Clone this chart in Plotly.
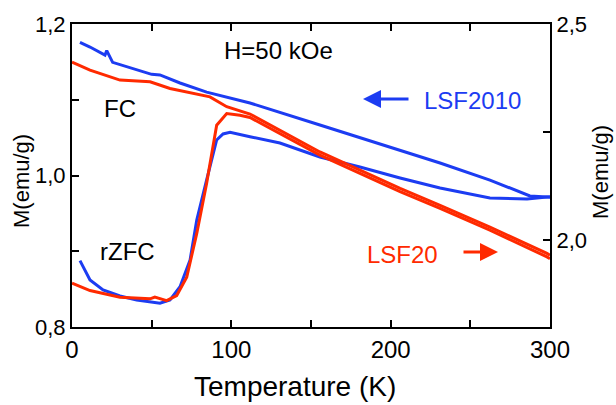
import plotly.graph_objects as go

# LSF2010 (left axis)
t_blue_fc = [5.0, 11.3, 20.7, 21.8, 25.5, 36.4, 46.9, 50.0, 55.2, 67.8, 84.5, 97.1, 105.4, 111.7, 155.6, 205.9, 231.0, 262.3, 283.0, 287.4, 298.1, 300.0]
m_blue_fc = [1.1758, 1.1696, 1.159, 1.1648, 1.1494, 1.142, 1.1349, 1.1335, 1.1327, 1.1221, 1.110, 1.1036, 1.0997, 1.0957, 1.0667, 1.0337, 1.0165, 0.994, 0.9769, 0.973, 0.9716, 0.9716]
t_blue_zfc = [5.0, 11.3, 19.5, 30.1, 40.6, 55.2, 61.5, 67.8, 74.1, 78.3, 84.5, 90.8, 94.8, 99.2, 111.7, 130.5, 155.6, 180.7, 205.9, 231.0, 262.3, 285.6, 298.1, 300.0]
m_blue_zfc = [0.8876, 0.862, 0.849, 0.841, 0.8357, 0.8313, 0.8357, 0.8532, 0.8885, 0.9413, 0.9941, 1.0469, 1.0548, 1.057, 1.0512, 1.0429, 1.0244, 1.0112, 0.9967, 0.9835, 0.9703, 0.969, 0.9716, 0.9716]

# LSF20 (right axis)
t_red_fc = [0.0, 11.3, 30.1, 49.0, 61.5, 86.6, 97.1, 105.4, 111.7, 155.6, 205.9, 231.0, 262.3, 298.1, 300.0]
m_red_fc = [2.412, 2.3935, 2.3704, 2.3664, 2.3511, 2.3317, 2.309, 2.2985, 2.292, 2.2044, 2.1203, 2.081, 2.0307, 1.9699, 1.966]
t_red_zfc = [0.0, 11.3, 30.1, 49.0, 52.0, 55.2, 59.4, 65.7, 72.0, 78.3, 84.5, 90.8, 97.1, 105.4, 111.7, 155.6, 205.9, 231.0, 262.3, 298.1, 300.0]
m_red_zfc = [1.9011, 1.8842, 1.8687, 1.865, 1.869, 1.866, 1.861, 1.8727, 1.915, 2.0162, 2.132, 2.2662, 2.2933, 2.2893, 2.284, 2.197, 2.113, 2.074, 2.024, 1.962, 1.958]

BLUE = "#1c3cf2"
RED = "#ff2a00"
FONT = "Liberation Sans"

fig = go.Figure()
fig.add_trace(go.Scatter(x=t_blue_fc, y=m_blue_fc, mode="lines", line=dict(color=BLUE, width=3), yaxis="y"))
fig.add_trace(go.Scatter(x=t_blue_zfc, y=m_blue_zfc, mode="lines", line=dict(color=BLUE, width=3), yaxis="y"))
fig.add_trace(go.Scatter(x=t_red_fc, y=m_red_fc, mode="lines", line=dict(color=RED, width=3), yaxis="y2"))
fig.add_trace(go.Scatter(x=t_red_zfc, y=m_red_zfc, mode="lines", line=dict(color=RED, width=3), yaxis="y2"))

axis_common = dict(showline=True, linecolor="black", linewidth=2, ticks="inside", ticklen=7,
                   tickwidth=2, tickcolor="black", showgrid=False, zeroline=False)

fig.update_layout(
    width=616, height=405,
    margin=dict(l=72, r=66, t=24, b=78),
    paper_bgcolor="white", plot_bgcolor="white",
    showlegend=False,
    separators=",.",
    font=dict(family=FONT, color="black", size=22),
    xaxis=dict(range=[0, 300], dtick=100, mirror="ticks",
               tickfont=dict(size=24), minor=dict(dtick=50, ticks="inside", ticklen=7, tickwidth=2, tickcolor="black"),
               **axis_common),
    yaxis=dict(range=[0.8, 1.2], dtick=0.2, tickformat=".1f", tickfont=dict(size=22),
               minor=dict(dtick=0.1, ticks="inside", ticklen=7, tickwidth=2, tickcolor="black"),
               **axis_common),
    yaxis2=dict(range=[1.8, 2.5], tick0=2.0, dtick=0.5, tickformat=".1f", tickfont=dict(size=22),
                overlaying="y", side="right",
                minor=dict(dtick=0.25, ticks="inside", ticklen=7, tickwidth=2, tickcolor="black"),
                **axis_common),
)

def txt(x, y, s, color="black", size=24, angle=0):
    fig.add_annotation(x=x, y=y, xref="paper", yref="paper", text=s, showarrow=False,
                       font=dict(family=FONT, size=size, color=color), textangle=angle,
                       xanchor="center", yanchor="middle")

L, R, T, B = 72, 550, 24, 327
def px(x, y):
    return (x - L) / (R - L), (B - y) / (B - T)

txt(*px(295, 386), "Temperature (K)", size=28)
txt(*px(22, 181), "M(emu/g)", size=22, angle=-90)
txt(*px(600, 172), "M(emu/g)", size=22, angle=-90)
txt(*px(278, 50), "H=50 kOe", size=24)
txt(*px(120, 109), "FC", size=24)
txt(*px(127, 251), "rZFC", size=24)
txt(*px(472, 101), "LSF2010", color=BLUE, size=24)
txt(*px(402, 254), "LSF20", color=RED, size=24)

# arrows
def arrow(x_from, y_from, x_to, y_to, color):
    a0, b0 = px(x_from, y_from)
    a1, b1 = px(x_to, y_to)
    fig.add_annotation(x=a1, y=b1, ax=a0, ay=b0, xref="x domain", yref="y domain",
                       axref="x domain", ayref="y domain", text="", showarrow=True,
                       arrowhead=2, arrowsize=1.2, arrowwidth=3, arrowcolor=color)

arrow(410, 99, 363, 99, BLUE)
arrow(462, 252, 498, 252, RED)

fig.write_html("out.html", config={"displayModeBar": False},
               post_script="document.body.style.margin='0';document.body.style.overflow='hidden';")
